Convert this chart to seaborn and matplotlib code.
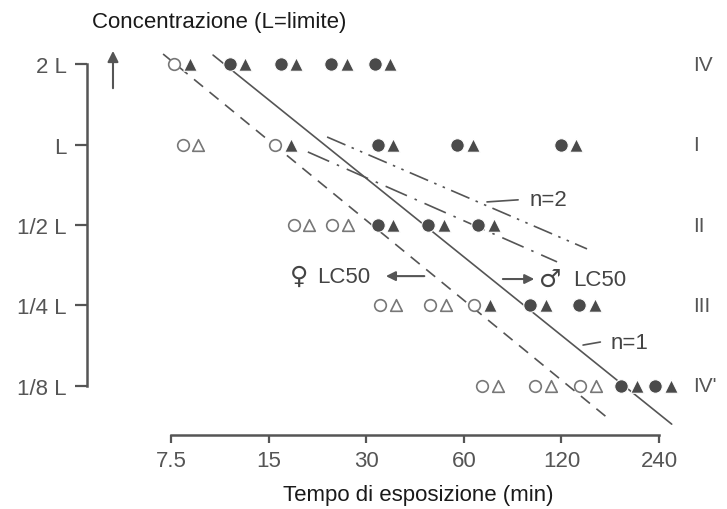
import numpy as np
import pandas as pd
import matplotlib
matplotlib.use("Agg")
import matplotlib.pyplot as plt
import matplotlib.transforms as mtransforms
from matplotlib.ticker import NullLocator
import seaborn as sns

# axis ticks: exposure time (min) and concentration (fraction of limit L)
time_ticks = [7.5, 15, 30, 60, 120, 240]
time_labels = ["7.5", "15", "30", "60", "120", "240"]
conc_levels = [0.125, 0.25, 0.5, 1, 2]
conc_labels = ["1/8 L", "1/4 L", "1/2 L", "L", "2 L"]
group_labels = ["IV'", "III", "II", "I", "IV"]

# observation times for each concentration row (circle = female, triangle = male)
times_IV = [8.1, 12.0, 17.3, 24.7, 33.6]
times_I = [8.6, 16.6, 34.3, 60.5, 125.9]
times_II = [18.9, 24.9, 34.3, 49.2, 70.2]
times_III = [35.0, 49.9, 68.3, 101.6, 143.9]
times_IVb = [72.3, 105.3, 145.0, 193.9, 246.9]

# 1 = dead (filled marker), 0 = alive (open marker)
female_IV = [0, 1, 1, 1, 1]
male_IV = [1, 1, 1, 1, 1]
female_I = [0, 0, 1, 1, 1]
male_I = [0, 1, 1, 1, 1]
female_II = [0, 0, 1, 1, 1]
male_II = [0, 0, 1, 1, 1]
female_III = [0, 0, 0, 1, 1]
male_III = [0, 0, 1, 1, 1]
female_IVb = [0, 0, 0, 1, 1]
male_IVb = [0, 0, 0, 1, 1]

# fitted lines (endpoints)
female_lc50_t = [7.08, 164.7]
female_lc50_c = [2.18, 0.096]
male_lc50_t = [10.1, 262.6]
male_lc50_c = [2.16, 0.090]
n2_upper_t = [22.7, 143.9]
n2_upper_c = [1.067, 0.407]
n2_lower_t = [19.8, 116.3]
n2_lower_c = [0.938, 0.364]

rows = [
    (2, times_IV, female_IV, male_IV),
    (1, times_I, female_I, male_I),
    (0.5, times_II, female_II, male_II),
    (0.25, times_III, female_III, male_III),
    (0.125, times_IVb, female_IVb, male_IVb),
]
recs = []
for conc, times, fem, mal in rows:
    for t, f, m in zip(times, fem, mal):
        recs.append(dict(time=t, conc=conc, sex="F", dead=f))
        recs.append(dict(time=t, conc=conc, sex="M", dead=m))
df = pd.DataFrame(recs)

sns.set_theme(style="ticks")
plt.rcParams["font.family"] = ["Liberation Sans", "DejaVu Sans"]

DARK = "#555555"
fig = plt.figure(figsize=(7.27, 5.1), dpi=100)
ax = fig.add_axes([87 / 727, 74 / 510, 613 / 727, 396 / 510])
ax.set_xscale("log", base=2)
ax.set_yscale("log", base=2)

# lines
sns.lineplot(x=female_lc50_t, y=female_lc50_c, ax=ax, color=DARK, lw=1.2,
             linestyle=(0, (7, 5)))
sns.lineplot(x=male_lc50_t, y=male_lc50_c, ax=ax, color=DARK, lw=1.2)
sns.lineplot(x=n2_upper_t, y=n2_upper_c, ax=ax, color=DARK, lw=1.2,
             linestyle=(0, (12, 4, 1.5, 4, 1.5, 4)))
sns.lineplot(x=n2_lower_t, y=n2_lower_c, ax=ax, color=DARK, lw=1.2,
             linestyle=(0, (14, 5, 1.5, 5)))

# markers: circles shifted left, triangles shifted right
left = mtransforms.ScaledTranslation(-5.5 / 72, 0, fig.dpi_scale_trans)
right = mtransforms.ScaledTranslation(5.5 / 72, 0, fig.dpi_scale_trans)
for sex, marker, shift in [("F", "o", left), ("M", "^", right)]:
    for dead in (0, 1):
        sub = df[(df.sex == sex) & (df.dead == dead)]
        if dead:
            kw = dict(color="#4a4a4a", edgecolor="white", linewidth=0.8, s=95)
        else:
            kw = dict(facecolor="white", edgecolor="#777777", linewidth=1.2, s=70)
        sns.scatterplot(data=sub, x="time", y="conc", marker=marker,
                        ax=ax, zorder=3, **kw)
        coll = ax.collections[-1]
        coll.set_offset_transform(ax.transData + shift)

ax.set_xlim(4.124, 321.1)
ax.set_ylim(0.08196, 2.481)
ax.set_xticks(time_ticks, time_labels)
ax.set_yticks(conc_levels, conc_labels)
ax.xaxis.set_minor_locator(NullLocator())
ax.yaxis.set_minor_locator(NullLocator())
sns.despine(ax=ax, trim=True)
ax.set_yticks(conc_levels, conc_labels)
ax.set_xticks(time_ticks, time_labels)
for side in ("left", "bottom"):
    ax.spines[side].set_linewidth(1.8)
    ax.spines[side].set_color(DARK)
ax.tick_params(axis="x", length=6, width=1.6, color=DARK, labelsize=16,
               labelcolor="#555555", pad=5)
ax.tick_params(axis="y", length=8.5, width=1.6, color=DARK, labelsize=16,
               labelcolor="#555555", pad=6)

ax.set_ylabel("")
ax.set_xlabel("Tempo di esposizione (min)", fontsize=16, color="#1a1a1a")
ax.xaxis.set_label_coords(0.54, -0.149)
ax.xaxis.label.set_va("center")
ax.text(0.008, 1.045, "Concentrazione (L=limite)", transform=ax.transAxes,
        ha="left", va="center", fontsize=16, color="#1a1a1a")
ax.annotate("", xy=(0.0424, 0.977), xytext=(0.0424, 0.8687),
            xycoords="axes fraction",
            arrowprops=dict(arrowstyle="-|>", color=DARK, lw=1.5, mutation_scale=16))

# group labels on the right
for c, lab in zip(conc_levels, group_labels):
    ax.text(306, c, lab, ha="left", va="center", fontsize=15, color="#555555",
            clip_on=False)

# annotations
ax.text(19.9, 0.322, "♀", ha="right", va="center", fontsize=18,
        family="DejaVu Sans", color="#444444")
ax.text(21.1, 0.322, "LC50", ha="left", va="center", fontsize=16, color="#444444")
ax.annotate("", xy=(33.8, 0.322), xytext=(46.2, 0.322),
            arrowprops=dict(arrowstyle="-|>", color=DARK, lw=1.5, mutation_scale=14))
ax.annotate("", xy=(100.9, 0.314), xytext=(77.6, 0.314),
            arrowprops=dict(arrowstyle="-|>", color=DARK, lw=1.5, mutation_scale=14))
ax.text(102.5, 0.314, "♂", ha="left", va="center", fontsize=18,
        family="DejaVu Sans", color="#444444")
ax.text(130.3, 0.314, "LC50", ha="left", va="center", fontsize=16, color="#444444")
ax.plot([70.7, 88.2], [0.610, 0.621], color=DARK, lw=1.2)
ax.text(96.0, 0.625, "n=2", ha="left", va="center", fontsize=16, color="#444444")
ax.plot([139.9, 158.2], [0.1778, 0.1825], color=DARK, lw=1.2)
ax.text(169.5, 0.1825, "n=1", ha="left", va="center", fontsize=16, color="#444444")

fig.savefig("out.png", dpi=100)
